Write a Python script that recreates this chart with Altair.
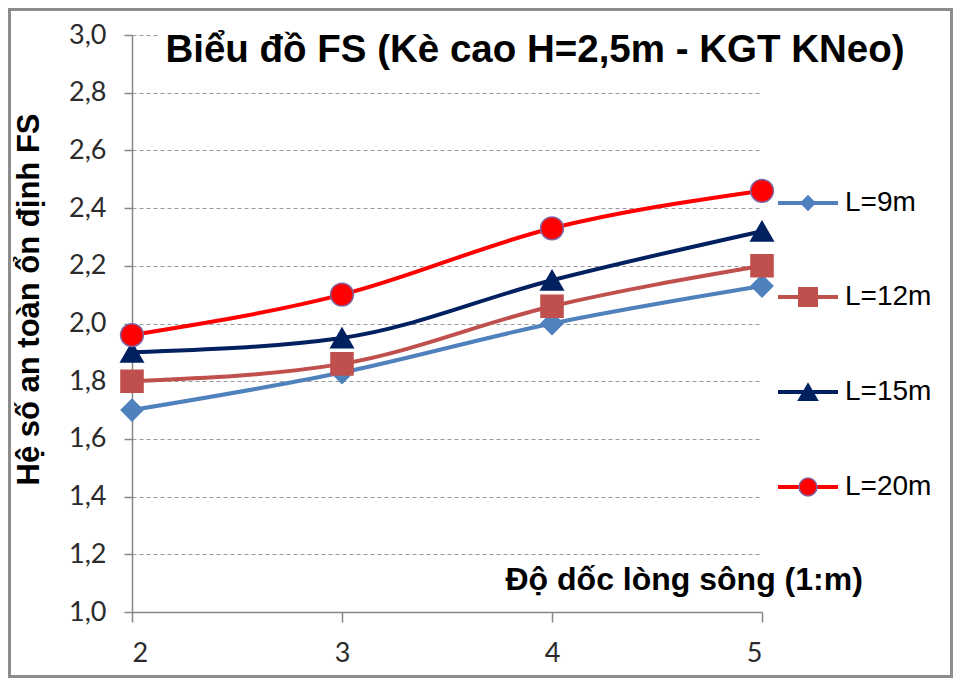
import altair as alt
import pandas as pd

# ---- data ----
slopes = [2, 3, 4, 5]
series_names = ["L=9m", "L=12m", "L=15m", "L=20m"]
fs_l9 = [1.70, 1.83, 2.00, 2.13]
fs_l12 = [1.80, 1.86, 2.06, 2.20]
fs_l15 = [1.90, 1.95, 2.15, 2.32]
fs_l20 = [1.96, 2.10, 2.33, 2.46]
y_ticks = [1.0, 1.2, 1.4, 1.6, 1.8, 2.0, 2.2, 2.4, 2.6, 2.8, 3.0]

chart_title = "Biểu đồ FS (Kè cao H=2,5m - KGT KNeo)"
x_title = "Độ dốc lòng sông (1:m)"
y_title = "Hệ số an toàn ổn định FS"

# ---- styles ----
line_colors = ["#4F81BD", "#C0504D", "#002060", "#FF0000"]
marker_shapes = ["diamond", "square", "triangle-up", "circle"]
marker_strokes = ["#4F81BD", "#C0504D", "#002060", "#8064A2"]
marker_sizes = [470, 520, 560, 450]
legend_sizes = [200, 340, 360, 320]

rows = []
for k, (name, vals) in enumerate(zip(series_names, [fs_l9, fs_l12, fs_l15, fs_l20])):
    for x, v in zip(slopes, vals):
        rows.append({"series": name, "k": k, "slope": x, "fs": v})
df = pd.DataFrame(rows)
legend_df = pd.DataFrame({"series": series_names, "k": list(range(len(series_names)))})

W, H = 630, 577
PAD = {"left": 124, "top": 27, "right": 191, "bottom": 66}

color_scale = alt.Scale(domain=series_names, range=line_colors)
shape_scale = alt.Scale(domain=series_names, range=marker_shapes)
stroke_scale = alt.Scale(domain=series_names, range=marker_strokes)
size_scale = alt.Scale(domain=series_names, range=marker_sizes)

AXIS_GRAY = "#868686"
LABEL_COLOR = "#2b2b2b"

x_enc = alt.X(
    "slope:Q",
    scale=alt.Scale(domain=[2, 5], nice=False, zero=False),
    axis=alt.Axis(
        values=slopes, format="d", title=x_title, grid=False,
        domainColor=AXIS_GRAY, domainWidth=1.5, tickColor=AXIS_GRAY, tickWidth=1.5,
        tickSize=10, labelFont="Lato", labelFontSize=27, labelColor=LABEL_COLOR,
        labelPadding=18, titleFont="Liberation Sans", titleFontSize=32,
        titleFontWeight="bold", titleColor="black", titleX=373, titleY=-33,
        titleAlign="left", titleBaseline="middle",
    ),
)
y_enc = alt.Y(
    "fs:Q",
    scale=alt.Scale(domain=[1, 3], nice=False, zero=False),
    axis=alt.Axis(
        values=y_ticks, labelExpr="replace(format(datum.value, '.1f'), '.', ',')",
        title=y_title, grid=True, gridColor="#9a9a9a", gridDash=[4, 3], gridWidth=1,
        domainColor=AXIS_GRAY, domainWidth=1.5, tickColor=AXIS_GRAY, tickWidth=1.5,
        tickSize=8, labelFont="Lato", labelFontSize=27, labelColor=LABEL_COLOR,
        labelPadding=18, titleFont="Liberation Sans", titleFontSize=31,
        titleFontWeight="bold", titleColor="black", titleX=-103, titleY=264,
        titleAngle=270, titleAlign="center", titleBaseline="middle",
    ),
)

base = alt.Chart(df)

lines = base.mark_line(interpolate="monotone", strokeWidth=4).encode(
    x=x_enc, y=y_enc,
    color=alt.Color("series:N", scale=color_scale, legend=None),
)

points = base.mark_point(filled=True, opacity=1, strokeWidth=1.5).encode(
    x="slope:Q", y="fs:Q",
    fill=alt.Fill("series:N", scale=color_scale, legend=None),
    stroke=alt.Stroke("series:N", scale=stroke_scale, legend=None),
    shape=alt.Shape("series:N", scale=shape_scale, legend=None),
    size=alt.Size("series:O", scale=size_scale, legend=None),
    order=alt.Order("k:Q"),
)

# white box behind the chart title (as in the original)
title_box = alt.Chart(pd.DataFrame({"t": [chart_title]})).mark_rect(
    fill="white", clip=False
).encode(x=alt.value(26), x2=alt.value(W + 10), y=alt.value(-8), y2=alt.value(44))

title_text = alt.Chart(pd.DataFrame({"t": [chart_title]})).mark_text(
    font="Liberation Sans", fontSize=38.5, fontWeight="bold", color="black",
    align="center", baseline="middle", clip=False,
).encode(text="t:N", x=alt.value(403), y=alt.value(15))

# legend: line + marker + label, stacked on the right
legend_layers = []
legend_y = [168, 262, 357, 452]
for i, name in enumerate(series_names):
    src = alt.Chart(legend_df).transform_filter(alt.datum.series == name)
    legend_layers.append(
        src.mark_rule(strokeWidth=4, color=line_colors[i], clip=False).encode(
            x=alt.value(646), x2=alt.value(706), y=alt.value(legend_y[i])
        )
    )
    legend_layers.append(
        src.mark_point(
            filled=True, opacity=1, shape=marker_shapes[i], size=legend_sizes[i],
            fill=line_colors[i], stroke=marker_strokes[i], strokeWidth=1.5, clip=False,
        ).encode(x=alt.value(676), y=alt.value(legend_y[i]))
    )
    legend_layers.append(
        src.mark_text(
            font="Liberation Sans", fontSize=28, color="black", align="left",
            baseline="middle", clip=False,
        ).encode(text="series:N", x=alt.value(713), y=alt.value(legend_y[i]))
    )

border = alt.Chart(pd.DataFrame({"b": [0]})).mark_rect(
    fill="transparent", stroke="#8c8c8c", strokeWidth=3, clip=False
).encode(
    x=alt.value(-PAD["left"] + 1.5), x2=alt.value(W + PAD["right"] - 1.5),
    y=alt.value(-PAD["top"] + 1.5), y2=alt.value(H + PAD["bottom"] - 1.5),
)

chart = alt.layer(
    lines, points, title_box, title_text, *legend_layers, border
).properties(
    width=W, height=H,
    autosize=alt.AutoSizeParams(type="none"),
    padding=PAD,
    background="white",
).configure_view(stroke=None)

chart.save("out.html", embed_options={"renderer": "svg", "actions": False})
